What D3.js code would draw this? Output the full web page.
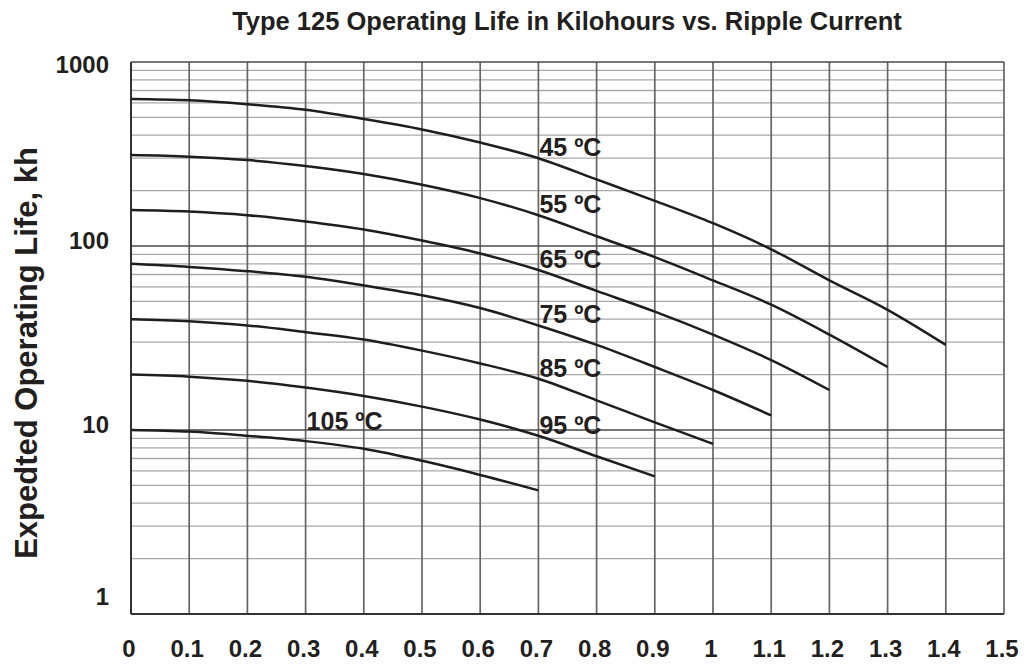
<!DOCTYPE html>
<html>
<meta charset="utf-8">
<style>
    body {
        margin: 0;
        background: #fff;
    }
    text {
        font-family: "Liberation Sans", Arial, sans-serif;
        font-weight: bold;
        fill: #231f20;
    }
    .vgrid line { stroke: #666; stroke-width: 1.7; }
    .hminor line { stroke: #a8a8a8; stroke-width: 1.3; }
    .hmajor line { stroke: #4a4a4a; stroke-width: 1.6; }
    .curve { fill: none; stroke: #1e1e1e; stroke-width: 2.5; }
</style>
<body>
<svg id="chart" width="1028" height="664"></svg>
<script src="https://cdn.jsdelivr.net/npm/d3@7/dist/d3.min.js"></script>
<script>
// ripple current (A) at each grid step
var current = [0, 0.1, 0.2, 0.3, 0.4, 0.5, 0.6, 0.7, 0.8, 0.9, 1.0, 1.1, 1.2, 1.3, 1.4];
var xTicks = [0, 0.1, 0.2, 0.3, 0.4, 0.5, 0.6, 0.7, 0.8, 0.9, 1, 1.1, 1.2, 1.3, 1.4, 1.5];
var xTickLabels = ["0", "0.1", "0.2", "0.3", "0.4", "0.5", "0.6", "0.7", "0.8", "0.9", "1", "1.1", "1.2", "1.3", "1.4", "1.5"];
var yTicks = [1, 10, 100, 1000];
var yTickLabels = ["1", "10", "100", "1000"];

var temps = ["45 ºC", "55 ºC", "65 ºC", "75 ºC", "85 ºC", "95 ºC", "105 ºC"];

// expected life, kh
var life45  = [630, 620, 590, 550, 490, 430, 365, 300, 230, 176, 133, 96, 65, 45, 29];
var life55  = [312, 306, 293, 272, 246, 215, 182, 147, 113, 87, 65, 48, 33, 22];
var life65  = [157, 154, 147, 136, 123, 107, 91, 74, 57, 44, 33, 24, 16.5];
var life75  = [80, 77, 73, 68, 61, 54, 46, 37, 29, 22, 16.5, 12];
var life85  = [40, 39, 37, 34, 31, 27, 23, 19, 14.5, 11, 8.4];
var life95  = [20, 19.5, 18.5, 17, 15.3, 13.4, 11.4, 9.3, 7.2, 5.6];
var life105 = [10, 9.8, 9.3, 8.7, 7.9, 6.8, 5.7, 4.7];

var lives = [life45, life55, life65, life75, life85, life95, life105];

var svg = d3.select("#chart");

var x = d3.scaleLinear().domain([0, 1.5]).range([131, 1004]);
var y = d3.scaleLog().domain([1, 1000]).range([614, 62]);

// horizontal minor grid (2..9 of each decade)
svg.append("g").attr("class", "hminor")
    .selectAll("line")
    .data(y.ticks().filter(function(d) { return yTicks.indexOf(d) < 0; }))
    .enter().append("line")
    .attr("x1", x(0)).attr("x2", x(1.5))
    .attr("y1", function(d) { return y(d); })
    .attr("y2", function(d) { return y(d); });

// vertical grid
svg.append("g").attr("class", "vgrid")
    .selectAll("line")
    .data(xTicks)
    .enter().append("line")
    .attr("x1", function(d) { return x(d); })
    .attr("x2", function(d) { return x(d); })
    .attr("y1", y(1000)).attr("y2", y(1));

// decade lines
svg.append("g").attr("class", "hmajor")
    .selectAll("line")
    .data(yTicks)
    .enter().append("line")
    .attr("x1", x(0)).attr("x2", x(1.5))
    .attr("y1", function(d) { return y(d); })
    .attr("y2", function(d) { return y(d); });

// frame left / bottom a bit darker
svg.append("line").attr("x1", x(0)).attr("x2", x(0)).attr("y1", y(1000)).attr("y2", y(1))
    .style("stroke", "#333").style("stroke-width", 2);
svg.append("line").attr("x1", x(0)).attr("x2", x(1.5)).attr("y1", y(1)).attr("y2", y(1))
    .style("stroke", "#333").style("stroke-width", 2);

// curves
var line = d3.line()
    .x(function(d, i) { return x(current[i]); })
    .y(function(d) { return y(d); })
    .curve(d3.curveMonotoneX);

svg.selectAll(".curve")
    .data(lives)
    .enter().append("path")
    .attr("class", "curve")
    .attr("d", line);

// curve labels
svg.selectAll(".clabel")
    .data(temps)
    .enter().append("text")
    .attr("class", "clabel")
    .attr("font-size", 25)
    .attr("x", function(d, i) { return i < 6 ? x(0.7) + 1 : x(0.3) + 1; })
    .attr("y", function(d, i) { return i < 6 ? y(lives[i][7]) - 2 : y(10); })
    .text(function(d) { return d; });

// x tick labels
svg.selectAll(".xlab")
    .data(xTicks)
    .enter().append("text")
    .attr("class", "xlab")
    .attr("font-size", 24)
    .attr("text-anchor", "middle")
    .attr("x", function(d) { return x(d) - 2; })
    .attr("y", 657)
    .text(function(d, i) { return xTickLabels[i]; });

// y tick labels
svg.selectAll(".ylab")
    .data(yTicks)
    .enter().append("text")
    .attr("class", "ylab")
    .attr("font-size", 24)
    .attr("text-anchor", "end")
    .attr("x", 109)
    .attr("y", function(d) { return y(d) + (d === 1 ? -9 : d === 1000 ? 11 : 3); })
    .text(function(d, i) { return yTickLabels[i]; });

// title
svg.append("text")
    .attr("x", 567).attr("y", 30)
    .attr("text-anchor", "middle")
    .attr("font-size", 25.5)
    .text("Type 125 Operating Life in Kilohours vs. Ripple Current");

// y axis title
svg.append("text")
    .attr("transform", "translate(37,353) rotate(-90)")
    .attr("text-anchor", "middle")
    .attr("font-size", 31)
    .text("Expedted Operating Life, kh");
</script>
</body>
</html>
